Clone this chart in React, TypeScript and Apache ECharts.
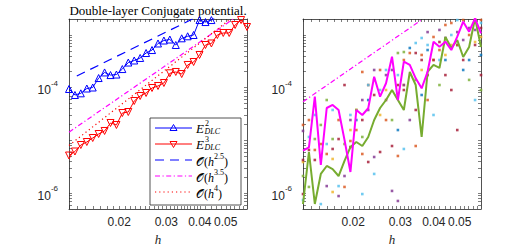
import React, { useEffect, useRef } from "react";
import * as echarts from "echarts";

// mesh sizes h
const H = [0.01300, 0.01368, 0.01439, 0.01515, 0.01594, 0.01677, 0.01765, 0.01857, 0.01954, 0.02056,
  0.02164, 0.02277, 0.02396, 0.02521, 0.02653, 0.02793, 0.02938, 0.03092, 0.03254, 0.03424,
  0.03603, 0.03792, 0.03990, 0.04199, 0.04419, 0.04650, 0.04893, 0.05149, 0.05418, 0.05702, 0.06000];

// left panel errors
const E2 = [9.42e-5, 7.25e-5, 7.80e-5, 9.62e-5, 1.005e-4, 1.52e-4, 1.94e-4, 1.73e-4, 1.77e-4, 2.25e-4,
  2.99e-4, 3.27e-4, 3.65e-4, 4.53e-4, 5.16e-4, 6.87e-4, 7.82e-4, 8.17e-4, 6.43e-4, 8.61e-4,
  9.40e-4, 9.95e-4, 1.91e-3, 1.75e-3, 1.91e-3, 2.3e-3, 2.6e-3, 2.8e-3, 3.2e-3, 3.5e-3, 3.9e-3];
const E3 = [5.16e-6, 6.15e-6, 8.17e-6, 9.31e-6, 1.109e-5, 1.321e-5, 1.507e-5, 2.135e-5, 1.958e-5, 3.30e-5,
  3.45e-5, 5.58e-5, 6.94e-5, 7.91e-5, 9.84e-5, 1.074e-4, 1.224e-4, 1.87e-4, 1.98e-4, 1.81e-4,
  2.69e-4, 3.06e-4, 4.16e-4, 6.43e-4, 6.87e-4, 9.95e-4, 1.086e-3, 1.086e-3, 1.54e-3, 1.91e-3, 1.41e-3];

// reference slopes (end points)
const REF25_H = [0.0139, 0.0376];
const REF25_V = [1.66e-4, 2.0e-3];
const REF35_H = [0.013, 0.0533];
const REF35_V = [1.43e-5, 2.0e-3];
const REF4_H = [0.013, 0.052];
const REF4_V = [8.0e-6, 2.0e-3];
const RREF35_H = [0.013, 0.0364];
const RREF35_V = [5.4e-5, 2.0e-3];

// right panel lines
const MAG = [6.37e-6, 7.39e-6, 6.73e-5, 3.41e-6, 4.11e-5, 4.69e-5, 3.77e-5, 1.02e-5, 2.52e-6, 3.77e-5,
  3.03e-5, 4.06e-5, 1.61e-4, 6.73e-5, 1.21e-4, 3.86e-4, 5.82e-5, 3.10e-4, 2.69e-4, 1.50e-4,
  9.70e-5, 2.00e-4, 7.43e-4, 5.97e-4, 7.43e-4, 5.16e-4, 9.23e-4, 1.78e-3, 1.15e-3, 2.06e-3, 1.07e-3];
const GRN = [6.22e-7, 6.02e-6, 6.22e-7, 2.31e-6, 3.27e-6, 2.86e-6, 2.11e-6, 4.07e-6, 7.48e-6, 9.31e-6,
  7.82e-6, 1.16e-5, 2.43e-5, 4.11e-5, 5.82e-5, 9.01e-5, 5.82e-5, 3.77e-5, 1.98e-4, 1.12e-4,
  1.16e-5, 2.00e-4, 2.69e-4, 2.36e-4, 9.12e-4, 5.64e-4, 8.0e-4, 3.81e-4, 5.89e-4, 2.06e-3, 5.89e-4];

// right panel dots, aligned with H (null = none, array = several)
type D = null | number | number[];
const DOT_BLUE: D[] = [null, null, null, null, null, null, null, null, null, 2.43e-5, null, 5.82e-5, null, null, null, null, 1.57e-5, null, 5.64e-4, null, 7.25e-5, 5.16e-4, null, null, 3.34e-4, null, 6.43e-4, 2.16e-4, 3.34e-4, null, 4.16e-4];
const DOT_ORANGE: D[] = [1.96e-5, 2.43e-5, 6.58e-6, 8.53e-6, 5.52e-6, null, 2.43e-5, 1.31e-6, 9.73e-6, 1.57e-5, [5.52e-6, 1.98e-4], 1.12e-4, 1.40e-4, 2.16e-4, 2.43e-5, null, 5.06e-6, 3.34e-4, 4.53e-4, 7.82e-6, 4.16e-4, 5.82e-5, 9.12e-4, 5.16e-4, 1.54e-3, 1.68e-3, 6.43e-4, 1.91e-3, 9.95e-4, 1.91e-3, 1.91e-3];
const DOT_YELLOW: D[] = [3.89e-6, null, null, null, null, [4.44e-6, 1.05e-6], null, null, 1.57e-5, 3.77e-5, null, null, null, 3.03e-5, 9.01e-5, null, null, 1.12e-4, null, null, 2.16e-4, null, 3.34e-4, null, 4.16e-4, 6.43e-4, null, null, null, 7.33e-4, 9.12e-4];
const DOT_PURPLE: D[] = [1.51e-5, 4.25e-6, null, null, 1.36e-6, null, 8.8e-7, 2.11e-6, 2.43e-5, null, 5.82e-5, 3.77e-5, [4.84e-6, 2.16e-4], null, 1.73e-4, [1.10e-6, 2.16e-4], 7.1e-7, 1.12e-4, 2.43e-5, null, null, 1.13e-3, null, 1.24e-3, 8.73e-4, null, 1.13e-3, 8.0e-4, 1.35e-3, 1.24e-3, null];
const DOT_GREEN: D[] = [2.11e-6, 1.31e-6, 1.06e-5, 1.96e-5, 5.82e-5, 1.06e-5, null, 8.53e-6, null, 3.77e-5, 1.16e-5, null, null, null, null, 2.43e-5, 4.53e-4, 4.73e-4, null, 1.40e-4, null, null, null, 1.12e-4, null, null, null, null, 1.40e-4, null, 9.01e-5];
const DOT_LBLUE: D[] = [7.4e-7, 1.16e-5, 3.03e-5, 6.2e-7, 8.53e-6, 3.77e-5, 1.36e-6, null, 3.03e-5, null, 9.6e-7, 1.12e-4, 2.31e-6, 9.01e-5, 2.16e-4, null, 1.73e-4, 6.87e-6, null, 7.01e-4, 8.73e-4, 6.43e-4, 3.03e-5, 3.34e-4, null, 9.95e-4, 1.91e-3, null, null, 5.82e-5, 1.68e-3];
const DOT_RED: D[] = [[4.25e-6, 9.6e-7], 6.58e-6, 4.25e-6, 4.84e-6, null, 6.87e-6, 1.06e-5, 1.12e-4, 7.48e-6, null, 2.43e-5, 3.89e-6, 7.25e-5, 6.02e-6, 5.82e-5, 7.82e-6, 1.12e-4, 9.01e-5, null, [3.77e-5, 4.53e-4], 3.34e-4, 1.73e-4, 3.34e-4, 7.33e-4, 1.73e-4, 9.01e-5, 1.57e-5, 3.34e-4, null, 6.43e-4, [1.35e-3, 1.73e-4]];

const X_MAJOR = [0.02, 0.03, 0.04, 0.05];
const X_MINOR = [0.013, 0.014, 0.015, 0.016, 0.017, 0.018, 0.019, 0.021, 0.022, 0.023, 0.024, 0.025, 0.026, 0.027, 0.028, 0.029,
  0.031, 0.032, 0.033, 0.034, 0.035, 0.036, 0.037, 0.038, 0.039, 0.042, 0.044, 0.046, 0.048, 0.052, 0.054, 0.056, 0.058];
const Y_LABELS = [1e-6, 1e-4];
const Y_TICKS = [6e-7, 7e-7, 8e-7, 9e-7, 1e-6, 2e-6, 3e-6, 4e-6, 5e-6, 6e-6, 7e-6, 8e-6, 9e-6, 1e-5, 2e-5, 3e-5, 4e-5, 5e-5, 6e-5, 7e-5, 8e-5, 9e-5,
  1e-4, 2e-4, 3e-4, 4e-4, 5e-4, 6e-4, 7e-4, 8e-4, 9e-4, 1e-3];

const lg = Math.log10;
const XMIN = lg(0.013), XMAX = lg(0.06), YMIN = lg(5e-7), YMAX = lg(2e-3);

const GRIDS = [
  { left: 69, top: 19, width: 178, height: 190 },
  { left: 303, top: 19, width: 178, height: 190 },
];

const AX = "#262626";
const SANS = "'Liberation Sans', Arial, sans-serif";
const SERIF = "'Liberation Serif', 'Times New Roman', serif";

function pts(hs: number[], vs: number[]) {
  return hs.map((h, i) => [lg(h), lg(vs[i])]);
}
function dots(arr: D[]) {
  const out: number[][] = [];
  arr.forEach((v, i) => {
    if (v == null) return;
    const list = Array.isArray(v) ? v : [v];
    list.forEach((x) => out.push([lg(H[i]), lg(x)]));
  });
  return out;
}

export default function App() {
  const ref = useRef<HTMLDivElement>(null);
  useEffect(() => {
    const chart = echarts.init(ref.current!, null, { renderer: "svg" });
    const xAxes: any[] = [];
    const yAxes: any[] = [];
    GRIDS.forEach((_, gi) => {
      const tickX = [...X_MAJOR, ...X_MINOR].map(lg);
      const tickY = Y_TICKS.map(lg);
      xAxes.push({
        gridIndex: gi, type: "value", min: XMIN, max: XMAX, position: "bottom",
        axisLine: { show: true, lineStyle: { color: AX, width: 0.8 } },
        axisTick: { show: true, inside: true, length: 3, customValues: tickX, lineStyle: { color: AX, width: 0.6 } },
        axisLabel: {
          customValues: X_MAJOR.map(lg), margin: 7, color: "#262626", fontSize: 12, fontFamily: SANS,
          formatter: (v: number) => Math.pow(10, v).toFixed(2),
        },
        splitLine: { show: false },
      });
      xAxes.push({
        gridIndex: gi, type: "value", min: XMIN, max: XMAX, position: "top",
        axisLine: { show: true, lineStyle: { color: AX, width: 0.8 } },
        axisTick: { show: true, inside: true, length: 3, customValues: tickX, lineStyle: { color: AX, width: 0.6 } },
        axisLabel: { show: false },
        splitLine: { show: false },
      });
      yAxes.push({
        gridIndex: gi, type: "value", min: YMIN, max: YMAX, position: "left",
        axisLine: { show: true, lineStyle: { color: AX, width: 0.8 } },
        axisTick: { show: true, inside: true, length: 3, customValues: tickY, lineStyle: { color: AX, width: 0.6 } },
        axisLabel: {
          customValues: Y_LABELS.map(lg), margin: 11,
          formatter: (v: number) => `{b|10}{s|${Math.round(v)}}`,
          rich: {
            b: { fontSize: 12, fontFamily: SANS, color: "#262626", verticalAlign: "bottom", lineHeight: 17 },
            s: { fontSize: 8, fontFamily: SANS, color: "#262626", verticalAlign: "top", lineHeight: 17 },
          },
        },
        splitLine: { show: false },
      });
      yAxes.push({
        gridIndex: gi, type: "value", min: YMIN, max: YMAX, position: "right",
        axisLine: { show: true, lineStyle: { color: AX, width: 0.8 } },
        axisTick: { show: true, inside: true, length: 3, customValues: tickY, lineStyle: { color: AX, width: 0.6 } },
        axisLabel: { show: false },
        splitLine: { show: false },
      });
    });

    const L = (gi: number) => ({ xAxisIndex: gi * 2, yAxisIndex: gi * 2 });
    const series: any[] = [
      {
        type: "line", ...L(0), data: pts(REF25_H, REF25_V), symbol: "none", clip: true,
        lineStyle: { color: "#0000ff", width: 1.2, type: [9, 6] },
      },
      {
        type: "line", ...L(0), data: pts(REF35_H, REF35_V), symbol: "none", clip: true,
        lineStyle: { color: "#ff00ff", width: 1.2, type: [5, 2.5, 1.2, 2.5] },
      },
      {
        type: "line", ...L(0), data: pts(REF4_H, REF4_V), symbol: "none", clip: true,
        lineStyle: { color: "#ff0000", width: 1.2, type: [1.2, 3] },
      },
      {
        type: "line", ...L(0), data: pts(H, E2), clip: true,
        symbol: "triangle", symbolSize: 7,
        lineStyle: { color: "#0000ff", width: 1 },
        itemStyle: { color: "rgba(0,0,0,0)", borderColor: "#0000ff", borderWidth: 1 },
      },
      {
        type: "line", ...L(0), data: pts(H, E3), clip: true,
        symbol: "triangle", symbolRotate: 180, symbolSize: 7,
        lineStyle: { color: "#ff0000", width: 1 },
        itemStyle: { color: "rgba(0,0,0,0)", borderColor: "#ff0000", borderWidth: 1 },
      },
      {
        type: "line", ...L(1), data: pts(RREF35_H, RREF35_V), symbol: "none", clip: true,
        lineStyle: { color: "#ff00ff", width: 1.2, type: [5, 2.5, 1.2, 2.5] },
      },
    ];
    const dotSets: [D[], string][] = [
      [DOT_BLUE, "#0072BD"], [DOT_ORANGE, "#D95319"], [DOT_YELLOW, "#EDB120"], [DOT_PURPLE, "#7E2F8E"],
      [DOT_GREEN, "#77AC30"], [DOT_LBLUE, "#4DBEEE"], [DOT_RED, "#A2142F"],
    ];
    dotSets.forEach(([arr, c]) => {
      series.push({
        type: "scatter", ...L(1), data: dots(arr), symbol: "rect", symbolSize: 2.6, clip: true,
        itemStyle: { color: c },
      });
    });
    series.push({
      type: "line", ...L(1), data: pts(H, GRN), symbol: "none", clip: true,
      lineStyle: { color: "#77AC30", width: 2 },
    });
    series.push({
      type: "line", ...L(1), data: pts(H, MAG), symbol: "none", clip: true,
      lineStyle: { color: "#ff00ff", width: 2 },
    });

    // legend drawn as graphic
    const LX = 150, LY = 118, LW = 91, LH = 87;
    const rowY = [128, 144, 160, 176, 192];
    const lx0 = 155, lx1 = 192, tx = 196;
    const legend: any[] = [
      { type: "rect", shape: { x: LX, y: LY, width: LW, height: LH }, style: { fill: "#fff", stroke: AX, lineWidth: 0.8 } },
      { type: "line", shape: { x1: lx0, y1: rowY[0], x2: lx1, y2: rowY[0] }, style: { stroke: "#0000ff", lineWidth: 1 } },
      { type: "polygon", shape: { points: [[173.5, rowY[0] - 3.5], [177, rowY[0] + 2.5], [170, rowY[0] + 2.5]] }, style: { fill: "none", stroke: "#0000ff", lineWidth: 1 } },
      { type: "line", shape: { x1: lx0, y1: rowY[1], x2: lx1, y2: rowY[1] }, style: { stroke: "#ff0000", lineWidth: 1 } },
      { type: "polygon", shape: { points: [[173.5, rowY[1] + 3.5], [177, rowY[1] - 2.5], [170, rowY[1] - 2.5]] }, style: { fill: "none", stroke: "#ff0000", lineWidth: 1 } },
      { type: "line", shape: { x1: lx0, y1: rowY[2], x2: lx1, y2: rowY[2] }, style: { stroke: "#0000ff", lineWidth: 1.2, lineDash: [9, 6] } },
      { type: "line", shape: { x1: lx0, y1: rowY[3], x2: lx1, y2: rowY[3] }, style: { stroke: "#ff00ff", lineWidth: 1.2, lineDash: [5, 2.5, 1.2, 2.5] } },
      { type: "line", shape: { x1: lx0, y1: rowY[4], x2: lx1, y2: rowY[4] }, style: { stroke: "#ff0000", lineWidth: 1.2, lineDash: [1.2, 3] } },
    ];
    const eLabel = (y: number, sup: string) => [
      { type: "text", x: tx, y, style: { text: "E", font: `italic 13px ${SERIF}`, fill: "#000", textVerticalAlign: "middle" } },
      { type: "text", x: tx + 9, y: y - 4.5, style: { text: sup, font: `8px ${SERIF}`, fill: "#000", textVerticalAlign: "middle" } },
      { type: "text", x: tx + 8.5, y: y + 3.5, style: { text: "DLC", font: `italic 8px ${SERIF}`, fill: "#000", textVerticalAlign: "middle" } },
    ];
    const oLabel = (y: number, p: string) => ({
      type: "text", x: tx, y,
      style: {
        text: `{n|𝒪(}{i|h}{s|${p}}{n|)}`, textVerticalAlign: "middle",
        rich: {
          n: { font: `12px ${SERIF}`, fill: "#000", verticalAlign: "bottom", lineHeight: 16 },
          i: { font: `italic 12px ${SERIF}`, fill: "#000", verticalAlign: "bottom", lineHeight: 16 },
          s: { font: `8px ${SERIF}`, fill: "#000", verticalAlign: "top", lineHeight: 16 },
        },
      },
    });
    legend.push(...eLabel(rowY[0], "2"), ...eLabel(rowY[1], "3"), oLabel(rowY[2], "2.5"), oLabel(rowY[3], "3.5"), oLabel(rowY[4], "4"));

    const graphic: any[] = [
      { type: "text", x: 158, y: 10, style: { text: "Double-layer Conjugate potential.", font: `13px ${SERIF}`, fill: "#000", textAlign: "center", textVerticalAlign: "middle" } },
      { type: "text", x: 158, y: 239, style: { text: "h", font: `italic 13px ${SERIF}`, fill: "#262626", textAlign: "center", textVerticalAlign: "middle" } },
      { type: "text", x: 392, y: 239, style: { text: "h", font: `italic 13px ${SERIF}`, fill: "#262626", textAlign: "center", textVerticalAlign: "middle" } },
      { type: "group", children: legend },
    ];

    chart.setOption({
      animation: false,
      backgroundColor: "#fff",
      grid: GRIDS.map((g) => ({ ...g, containLabel: false })),
      xAxis: xAxes,
      yAxis: yAxes,
      series,
      graphic,
    });
    return () => chart.dispose();
  }, []);
  return <div ref={ref} style={{ position: "fixed", left: 0, top: 0, width: 532, height: 248 }} />;
}
